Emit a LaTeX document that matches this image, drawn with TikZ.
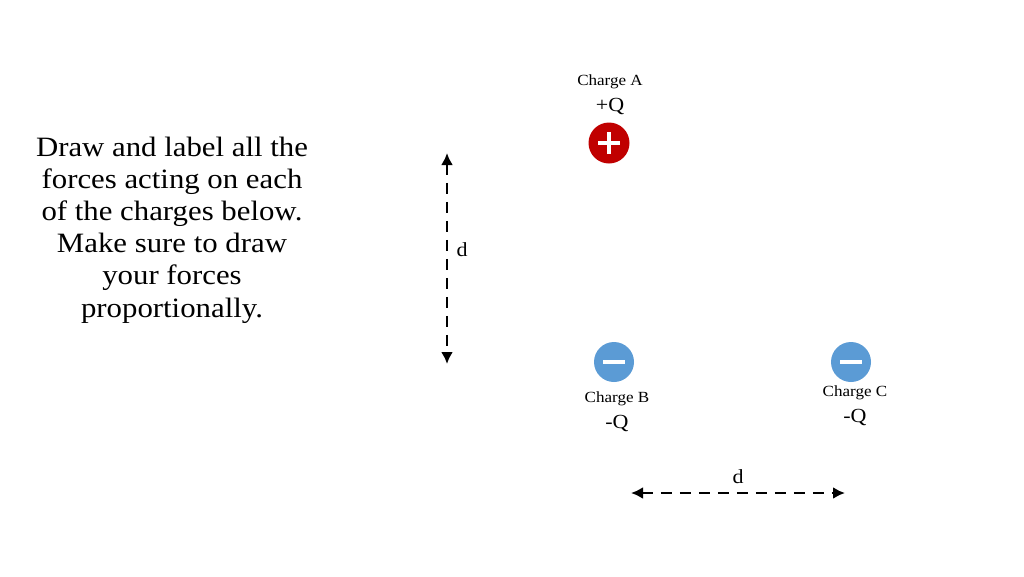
\documentclass[tikz,border=0pt]{standalone}
\usepackage{fontspec}
\setmainfont{Liberation Serif}[FakeStretch=1.1]
\usetikzlibrary{arrows.meta,calc}
\begin{document}
\begin{tikzpicture}[x=1pt,y=-1pt,
  lbl/.style={inner sep=0pt,font=\fontsize{15.5}{17}\selectfont},
  qlbl/.style={inner sep=0pt,font=\fontsize{20}{22}\selectfont},
  dim/.style={line width=2.7pt,dash pattern=on 11pt off 8pt,{Latex[length=12pt,width=12pt]}-{Latex[length=12pt,width=12pt]}}]
\useasboundingbox (0,0) rectangle (1024,576);
\definecolor{cred}{HTML}{C00000}
\definecolor{cblue}{HTML}{5B9BD5}
\node[align=center,inner sep=0pt,font=\fontsize{28}{32.2}\selectfont] (txt) at (172,230) {Draw and label all the\\forces acting on each\\of the charges below.\\Make sure to draw\\your forces\\proportionally.};
\node[circle,fill=cred,minimum size=41pt,inner sep=0pt] (A) at (609,143) {};
\draw[white,line width=4.5pt] ($(A)+(-11,0)$) -- ($(A)+(11,0)$) ($(A)+(0,-11)$) -- ($(A)+(0,11)$);
\node[lbl] (Al) at (610,82) {Charge A};
\node[qlbl] (Aq) at (610,106) {+Q};
\node[circle,fill=cblue,minimum size=40pt,inner sep=0pt] (B) at (614,362) {};
\draw[white,line width=4.5pt] ($(B)+(-11,0)$) -- ($(B)+(11,0)$);
\node[lbl] (Bl) at (617,399) {Charge B};
\node[qlbl] (Bq) at (617,423) {-Q};
\node[circle,fill=cblue,minimum size=40pt,inner sep=0pt] (C) at (851,362) {};
\draw[white,line width=4.5pt] ($(C)+(-11,0)$) -- ($(C)+(11,0)$);
\node[lbl] (Cl) at (855,393) {Charge C};
\node[qlbl] (Cq) at (855,417) {-Q};
\coordinate (v1) at (447,153);
\coordinate (v2) at (447,364);
\draw[dim] (v1) -- (v2);
\node[qlbl] (vd) at (462,250) {d};
\coordinate (h1) at (631,493);
\coordinate (h2) at (845,493);
\draw[dim] (h1) -- (h2);
\node[qlbl] (hd) at (738,477) {d};
\end{tikzpicture}
\end{document}
